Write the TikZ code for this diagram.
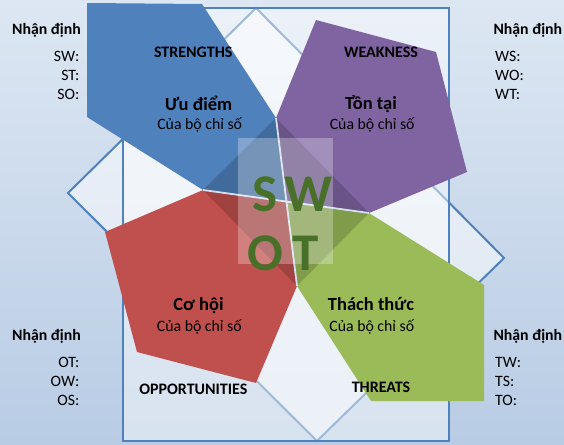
\documentclass[tikz,border=0pt]{standalone}
\usepackage{fontspec}
\setmainfont{Carlito}
\definecolor{bgtop}{RGB}{221,231,243}
\definecolor{bgbot}{RGB}{184,204,228}
\definecolor{sblue}{RGB}{79,129,189}
\definecolor{spurple}{RGB}{128,100,162}
\definecolor{sred}{RGB}{192,80,77}
\definecolor{sgreen}{RGB}{155,187,89}
\definecolor{swotgreen}{RGB}{72,112,40}
\definecolor{gapc}{RGB}{212,223,237}
\begin{document}
\begin{tikzpicture}[x=1pt,y=-1pt,
  framebox/.style={draw=sblue,line width=2.2pt,fill=white,fill opacity=0.45},
  rotbox/.style={draw=sblue,line width=2pt,fill=white,fill opacity=0.5},
  gapline/.style={draw=gapc,line width=1.8pt},
  capt/.style={font=\fontsize{16}{18}\selectfont\bfseries,anchor=base,inner sep=0pt},
  ttl/.style={font=\fontsize{18.5}{20}\selectfont\bfseries,anchor=base,inner sep=0pt},
  sub/.style={font=\fontsize{15.8}{18}\selectfont,anchor=base,inner sep=0pt},
  nd/.style={font=\fontsize{15.8}{18}\selectfont\bfseries,inner sep=0pt},
  pair/.style={font=\fontsize{15.8}{18}\selectfont,inner sep=0pt},
  big/.style={font=\fontsize{53}{56}\selectfont\bfseries,text=swotgreen,anchor=base,inner sep=0pt}]
\useasboundingbox (0,0) rectangle (564,444);
\shade[top color=bgtop,bottom color=bgbot] (0,0) rectangle (564,444);
% rotated rectangle and frame
\coordinate (dT) at (256,8);
\coordinate (dR) at (504,258);
\coordinate (dB) at (317,441);
\coordinate (dL) at (68,193);
\path[rotbox] (dT) -- (dR) -- (dB) -- (dL) -- cycle;
\path[framebox] (123,8) rectangle (449,441);
% inner diamond points
\coordinate (iT) at (276,118);
\coordinate (iL) at (203,190);
\coordinate (iR) at (369,213);
\coordinate (iB) at (297,286);
\coordinate (c) at (intersection of iT--iB and iL--iR);
% quadrants
\fill[sblue] (87,3) -- (202,4) -- (iT) -- (c) -- (iL) -- (87,117) -- cycle;
\fill[spurple] (316,20) -- (436,52) -- (467,172) -- (iR) -- (c) -- (iT) -- cycle;
\fill[sred] (105,232) -- (iL) -- (c) -- (iB) -- (256,383) -- (137,352) -- cycle;
\fill[sgreen] (iR) -- (484,285) -- (484,401) -- (371,401) -- (iB) -- (c) -- cycle;
\fill[black,opacity=0.17] (iT) -- (iR) -- (iB) -- (iL) -- cycle;
\draw[gapline] (iT) -- (iB);
\draw[gapline] (iL) -- (iR);
\fill[white,opacity=0.28] (238,138) rectangle (333,264);
% SWOT letters
\node[big] (ls) at (265,211.5) {S};
\node[big] (lw) at (308.5,211.5) {W};
\node[big] (lo) at (265,270) {O};
\node[big] (lt) at (306,270) {T};
% quadrant texts
\node[capt] (st) at (193.2,57.5) {STRENGTHS};
\node[ttl] (s1) at (198.7,110) {Ưu điểm};
\node[sub] (s2) at (199.7,129) {Của bộ chỉ số};
\node[capt] (wk) at (381,57.5) {WEAKNESS};
\node[ttl] (w1) at (371,109.5) {Tồn tại};
\node[sub] (w2) at (372.2,129) {Của bộ chỉ số};
\node[ttl] (o1) at (198.5,310.7) {Cơ hội};
\node[sub] (o2) at (199.3,331) {Của bộ chỉ số};
\node[capt] (op) at (193.3,394) {OPPORTUNITIES};
\node[ttl] (t1) at (371,310.7) {Thách thức};
\node[sub] (t2) at (371.8,331) {Của bộ chỉ số};
\node[capt] (th) at (381,392) {THREATS};
% side notes
\node[nd,anchor=base east] (n1) at (81,35) {Nhận định};
\node[pair,anchor=base east] (p1) at (79.5,61) {SW:};
\node[pair,anchor=base east] (p2) at (79.5,80) {ST:};
\node[pair,anchor=base east] (p3) at (79.5,99.5) {SO:};
\node[nd,anchor=base west] (n2) at (493.3,35) {Nhận định};
\node[pair,anchor=base west] (p4) at (495,61) {WS:};
\node[pair,anchor=base west] (p5) at (495,80) {WO:};
\node[pair,anchor=base west] (p6) at (495,99.5) {WT:};
\node[nd,anchor=base east] (n3) at (81,340.7) {Nhận định};
\node[pair,anchor=base east] (p7) at (79.5,367.7) {OT:};
\node[pair,anchor=base east] (p8) at (79.5,386.7) {OW:};
\node[pair,anchor=base east] (p9) at (79.5,405.7) {OS:};
\node[nd,anchor=base west] (n4) at (493.3,340) {Nhận định};
\node[pair,anchor=base west] (p10) at (495,367.7) {TW:};
\node[pair,anchor=base west] (p11) at (495,386.7) {TS:};
\node[pair,anchor=base west] (p12) at (495,405.7) {TO:};
\end{tikzpicture}
\end{document}
